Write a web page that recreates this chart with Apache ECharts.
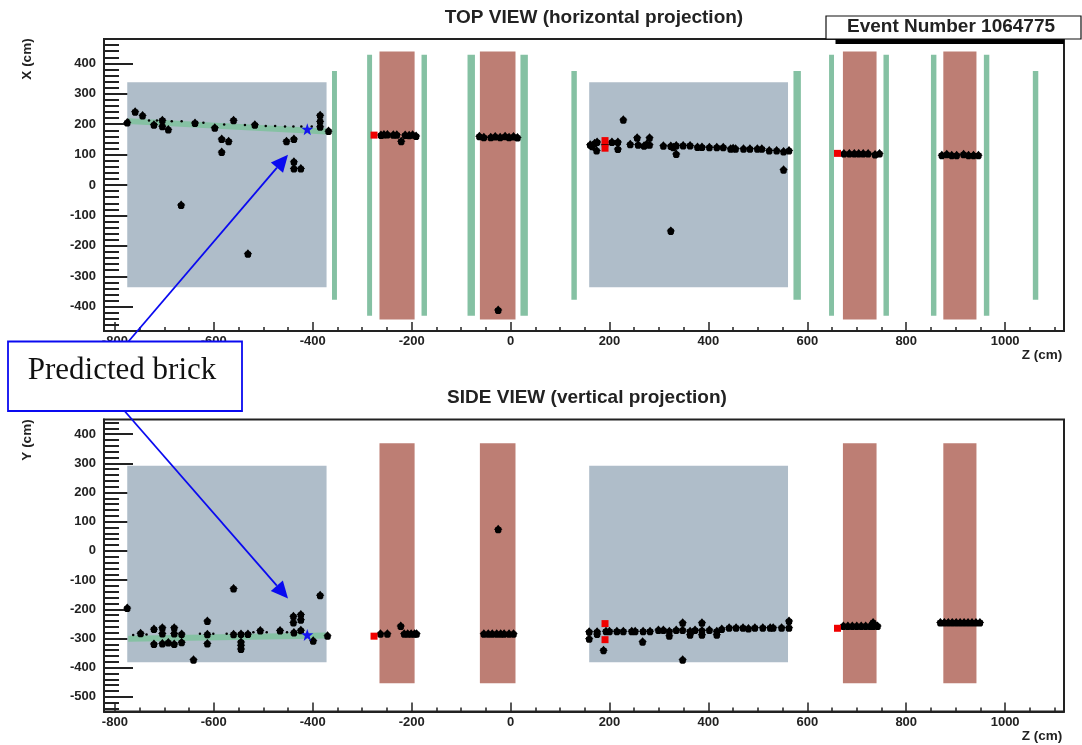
<!DOCTYPE html>
<html><head><meta charset="utf-8">
<style>html,body{margin:0;padding:0;background:#fff}#c{width:1082px;height:745px;filter:blur(0.45px)}</style>
<script src="https://cdn.jsdelivr.net/npm/echarts@6/dist/echarts.min.js"></script>
</head><body><div id="c"></div>
<script>
// ---------- axis ticks
const zMajor = [-800,-600,-400,-200,0,200,400,600,800,1000];
const zMinor = [-750,-700,-650,-550,-500,-450,-350,-300,-250,-150,-100,-50,50,100,150,250,300,350,450,500,550,650,700,750,850,900,950,1050,1100];
const xMajor = [-400,-300,-200,-100,0,100,200,300,400];
const yMajor = [-500,-400,-300,-200,-100,0,100,200,300,400];
const minorY = (lo,hi)=>{const r=[];for(let v=lo;v<=hi;v+=20) if(v%100!==0) r.push(v);return r;};
const xMinor = minorY(-480,480);
const yMinor = minorY(-540,440);

// ---------- detector blocks: [z0, z1, v0, v1]
const topBlue  = [[-775,-372,-336,338],[159,561,-336,338]];
const topBrown = [[-265,-194,-442,439],[-62,10,-442,439],[672,740,-442,439],[875,942,-442,439]];
const topGreen = [[-361,-351,-377,375],[-290,-280,-430,428],[-180,-169,-430,428],[-87,-72,-430,428],[20,35,-430,428],
                  [123,134,-377,375],[572,587,-377,375],[644,654,-430,428],[754,765,-430,428],[850,861,-430,428],[957,968,-430,428],[1056,1067,-377,375]];
const sideBlue  = [[-775,-372,-381,292],[159,561,-381,292]];
const sideBrown = [[-265,-194,-453,369],[-62,10,-453,369],[672,740,-453,369],[875,942,-453,369]];

// ---------- top view points [z, X]
const topHits = [[-775,206],[-759,242],[-744,229],[-692,183],[-721,199],[-704,194],[-704,214],[-560,214],[-598,189],[-584,152],[-570,145],[-584,109],
 [-666,-65],[-531,-225],[-453,145],[-438,152],[-438,77],[-438,55],[-424,55],[-385,230],[-385,210],[-385,192],[-368,178],[-638,205],[-517,199],
 [-262,165],[-256,167],[-249,167],[-237,166],[-230,166],[-213,165],[-205,164],[-198,166],[-191,162],[-221,145],
 [-63,161],[-54,158],[-40,158],[-31,160],[-21,158],[-11,161],[-3,158],[6,160],[14,157],[-25,-410],
 [161,133],[165,128],[175,142],[170,138],[174,114],[191,133],[205,142],[217,142],[217,119],[228,215],[242,135],[256,156],[258,133],[270,130],[275,135],[281,156],[281,133],
 [309,130],[324,129],[329,125],[335,131],[349,131],[363,131],[378,126],[387,126],[402,125],[417,125],[335,103],[324,-150],
 [430,125],[445,120],[450,122],[455,120],[471,120],[484,120],[499,120],[508,120],[523,114],[538,114],[552,111],[563,114],[552,51],
 [674,104],[685,104],[695,104],[704,104],[713,104],[723,104],[737,101],[746,104],
 [872,99],[882,102],[892,99],[902,99],[916,102],[926,99],[936,99],[946,99]];
const topTrail = [[-773,214],[-731,212],[-715,212],[-685,210],[-665,210],[-621,205],[-579,199],[-537,197],[-495,194],[-476,194],[-456,192],[-439,192],[-423,192],[-402,192]];
const topRed = [[-276,164],[191,146],[191,121],[661,104]];
const topStar = [[-411,183]];
const topTrack = [[-773,210],[-372,176]];

// ---------- side view points [z, Y]
const sideHits = [[-775,-195],[-748,-281],[-721,-267],[-704,-262],[-680,-262],[-680,-282],[-704,-282],[-665,-284],[-721,-318],[-704,-316],[-692,-313],[-680,-318],[-665,-312],
 [-641,-372],[-613,-239],[-613,-285],[-613,-316],[-560,-128],[-560,-285],[-545,-284],[-531,-284],[-545,-311],[-545,-322],[-545,-335],[-506,-272],[-466,-272],[-438,-279],
 [-439,-223],[-439,-244],[-424,-217],[-424,-235],[-424,-271],[-385,-151],[-399,-307],[-370,-290],
 [-263,-283],[-249,-283],[-222,-256],[-215,-283],[-208,-283],[-201,-283],[-194,-283],[-190,-283],
 [-54,-283],[-45,-283],[-37,-283],[-28,-283],[-20,-283],[-13,-283],[-3,-283],[6,-283],[-25,75],
 [159,-276],[159,-300],[175,-276],[175,-284],[193,-274],[200,-274],[215,-274],[228,-274],[245,-274],[252,-274],[268,-274],[282,-274],[299,-270],[309,-270],[321,-274],[321,-290],[335,-270],[348,-245],[348,-270],
 [267,-310],[188,-339],[348,-372],[363,-274],[363,-286],[373,-270],[387,-245],[387,-272],[387,-286],[402,-270],[417,-274],[417,-286],
 [427,-267],[442,-262],[456,-262],[470,-262],[481,-265],[494,-262],[510,-262],[525,-262],[531,-262],[548,-262],[563,-239],[563,-262],
 [673,-256],[682,-256],[691,-256],[700,-256],[709,-256],[718,-256],[727,-256],[733,-244],[733,-256],[742,-256],
 [869,-244],[877,-244],[885,-244],[893,-244],[901,-244],[909,-244],[917,-244],[925,-244],[933,-244],[941,-244],[949,-244]];
const sideTrail = [[-763,-288],[-736,-286],[-704,-284],[-680,-284],[-665,-284],[-628,-284],[-601,-284],[-574,-284],[-520,-279],[-493,-279],[-452,-279]];
const sideRed = [[-276,-292],[191,-249],[191,-304],[661,-265]];
const sideStar = [[-411,-288]];
const sideTrack = [[-773,-301],[-372,-290]];

const titles = ['TOP VIEW (horizontal projection)','SIDE VIEW (vertical projection)'];

// ---------- styling
const ink='#222222', BLUE='#afbdc9', BROWN='#bd7e74', GREEN='#85c1a3';
const hitPath='path://M5 0L7 2.2L8.6 3L8.8 4.2L10 5L8.8 5.8L8.6 8L7 9.4L3 9.4L1.4 8L1.2 5.8L0 5L1.2 4.2L1.4 3L3 2.2Z';
const starPath='path://M5 0L6.2 3.6L10 3.6L7 6L8 10L5 7.6L2 10L3 6L0 3.6L3.8 3.6Z';
const font='"Liberation Sans",Arial,sans-serif';
const lbl={color:ink,fontFamily:font,fontWeight:'bold',fontSize:13,formatter:v=>String(v)};

function rects(data,color,g,z){return {type:'custom',coordinateSystem:'cartesian2d',xAxisIndex:g*2,yAxisIndex:g*2,z,silent:true,
  data,encode:{x:[0,1],y:[2,3]},
  renderItem(p,api){const a=api.coord([api.value(0),api.value(3)]),b=api.coord([api.value(1),api.value(2)]);
    return {type:'rect',shape:{x:a[0],y:a[1],width:b[0]-a[0],height:b[1]-a[1]},style:{fill:color}};}};}
function scatter(data,symbol,size,color,g,z){return {type:'scatter',xAxisIndex:g*2,yAxisIndex:g*2,data,symbol,symbolSize:size,itemStyle:{color,opacity:1},z,silent:true};}
function track(data,g){return {type:'line',xAxisIndex:g*2,yAxisIndex:g*2,data,showSymbol:false,lineStyle:{color:GREEN,width:6},z:3,silent:true};}

function xAxes(g){return [
 {type:'value',gridIndex:g,min:-822,max:1119,position:'bottom',splitLine:{show:false},
  axisLine:{onZero:false,lineStyle:{color:ink,width:2}},
  axisTick:{show:true,inside:true,length:9,customValues:zMajor,lineStyle:{color:ink,width:1.5}},
  axisLabel:Object.assign({show:true,margin:4,customValues:zMajor,hideOverlap:false},lbl)},
 {type:'value',gridIndex:g,min:-822,max:1119,position:'bottom',splitLine:{show:false},axisLine:{show:false,onZero:false},
  axisTick:{show:true,inside:true,length:4,customValues:zMinor,lineStyle:{color:ink,width:1.5}},axisLabel:{show:false}}];}
function yAxes(g,min,max,maj,mnr){return [
 {type:'value',gridIndex:g,min,max,position:'left',splitLine:{show:false},
  axisLine:{onZero:false,lineStyle:{color:ink,width:2}},
  axisTick:{show:true,inside:true,length:29,customValues:maj,lineStyle:{color:ink,width:2}},
  axisLabel:Object.assign({show:true,margin:8,customValues:maj,hideOverlap:false},lbl)},
 {type:'value',gridIndex:g,min,max,position:'left',splitLine:{show:false},axisLine:{show:false,onZero:false},
  axisTick:{show:true,inside:true,length:15,customValues:mnr,lineStyle:{color:ink,width:2}},axisLabel:{show:false}}];}

function arrow(x0,y0,x1,y1){
  const L=Math.hypot(x1-x0,y1-y0),ux=(x1-x0)/L,uy=(y1-y0)/L,bx=x1-ux*17,by=y1-uy*17,px=-uy*8,py=ux*8;
  return [{type:'line',z:50,shape:{x1:x0,y1:y0,x2:bx,y2:by},style:{stroke:'#0a0af0',lineWidth:1.8}},
          {type:'polygon',z:50,shape:{points:[[x1,y1],[bx+px,by+py],[bx-px,by-py]]},style:{fill:'#0a0af0'}}];
}
function txt(x,y,text,o){return {type:'text',z:60,x,y,style:Object.assign({text,fill:ink,font:'bold 13.5px '+font,textAlign:'center',textVerticalAlign:'middle'},o||{})};}

const option={
 animation:false,backgroundColor:'#fff',
 title:[
  {text:titles[0],left:589,top:3,textAlign:'center',textStyle:{fontFamily:font,fontWeight:'bold',fontSize:19,color:ink}},
  {text:titles[1],left:582,top:383,textAlign:'center',textStyle:{fontFamily:font,fontWeight:'bold',fontSize:19,color:ink}}],
 grid:[
  {left:104,top:39,width:960,height:292,show:true,borderColor:ink,borderWidth:2,backgroundColor:'#fff'},
  {left:104,top:419.5,width:960,height:292,show:true,borderColor:ink,borderWidth:2,backgroundColor:'#fff'}],
 xAxis:[...xAxes(0),...xAxes(1)],
 yAxis:[...yAxes(0,-480,480,xMajor,xMinor),...yAxes(1,-550,450,yMajor,yMinor)],
 series:[
  rects(topBlue,BLUE,0,1),rects(topBrown,BROWN,0,1),rects(topGreen,GREEN,0,1),
  track(topTrack,0),
  scatter(topTrail,'circle',2.5,'#000',0,4),
  scatter(topHits,hitPath,8.5,'#000',0,5),
  scatter(topRed,'rect',7,'#f00000',0,6),
  scatter(topStar,starPath,12,'#1414f0',0,7),
  rects(sideBlue,BLUE,1,1),rects(sideBrown,BROWN,1,1),
  track(sideTrack,1),
  scatter(sideTrail,'circle',2.5,'#000',1,4),
  scatter(sideHits,hitPath,8.5,'#000',1,5),
  scatter(sideRed,'rect',7,'#f00000',1,6),
  scatter(sideStar,starPath,12,'#1414f0',1,7)
 ],
 graphic:[
  txt(27,59,'X (cm)',{}),txt(27,440,'Y (cm)',{}),
  txt(1042,355,'Z (cm)',{}),txt(1042,736,'Z (cm)',{}),
  {type:'rect',z:55,shape:{x:835.5,y:38,width:228.5,height:6},style:{fill:'#000'}},
  {type:'rect',z:56,shape:{x:826,y:16,width:255,height:23},style:{fill:'#fff',stroke:'#111',lineWidth:1.2}},
  txt(951,26.5,'Event Number 1064775',{font:'bold 19px '+font,fill:'#222'}),
  {type:'rect',z:57,shape:{x:8,y:341.5,width:234,height:69.5},style:{fill:'#fff',stroke:'#0a0af0',lineWidth:1.8}},
  txt(122,371,'Predicted brick',{font:'31px "Liberation Serif","Times New Roman",serif',fill:'#111'}),
  ...arrow(128,342,288,154.7),
  ...arrow(125,411.5,288,598.5)
 ]
};
option.graphic[0].rotation=Math.PI/2; option.graphic[1].rotation=Math.PI/2;
const chart=echarts.init(document.getElementById('c'),null,{renderer:'canvas'});
chart.setOption(option);
</script></body></html>
